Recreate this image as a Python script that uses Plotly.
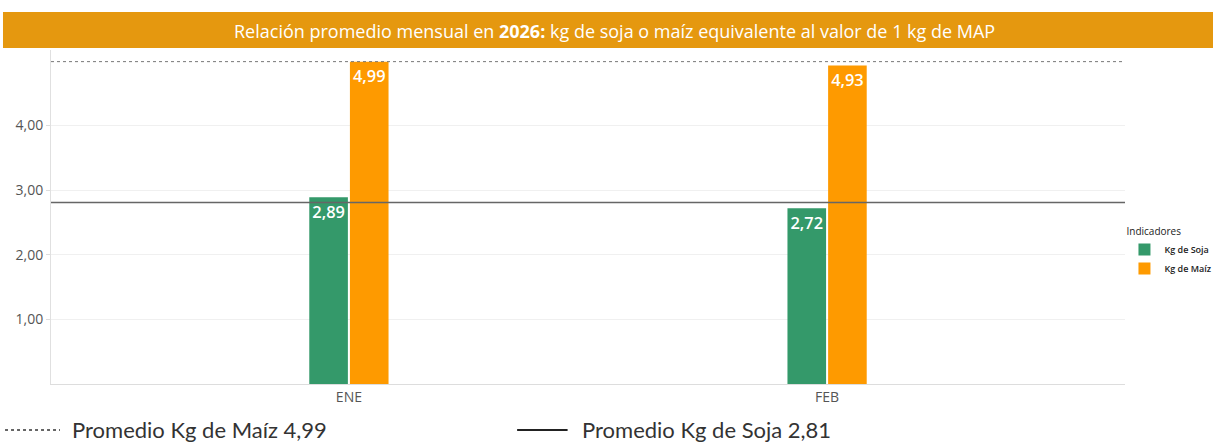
import plotly.graph_objects as go

categorias = ["ENE", "FEB"]
kg_soja = [2.89, 2.72]
kg_maiz = [4.99, 4.93]
promedio_maiz = 4.99
promedio_soja = 2.81
y_ticks = [1, 2, 3, 4]
y_tick_labels = ["1,00", "2,00", "3,00", "4,00"]

titulo = "Relación promedio mensual en <b>2026:</b> kg de soja o maíz equivalente al valor de 1 kg de MAP"

GREEN = "#34996A"
ORANGE = "#FE9A00"
BAR_TITLE = "#E5980F"

fig = go.Figure()
fig.add_trace(go.Bar(
    x=categorias, y=kg_soja, name="Kg de Soja", marker_color=GREEN,
    text=[f"{v:.2f}".replace(".", ",") for v in kg_soja],
    textposition="inside", insidetextanchor="end", textangle=0,
    textfont=dict(color="white", size=17, family="Open Sans", weight=600),
    marker_line_width=0,
))
fig.add_trace(go.Bar(
    x=categorias, y=kg_maiz, name="Kg de Maíz", marker_color=ORANGE,
    text=[f"{v:.2f}".replace(".", ",") for v in kg_maiz],
    textposition="inside", insidetextanchor="end", textangle=0,
    textfont=dict(color="white", size=17, family="Open Sans", weight=600),
    marker_line_width=0,
))

shapes = [
    # title bar
    dict(type="rect", xref="paper", yref="paper", x0=-0.0447, x1=1.082, y0=1.006, y1=1.114,
         fillcolor=BAR_TITLE, line_width=0, layer="above"),
    # average lines
    dict(type="line", xref="paper", yref="y", x0=0, x1=1, y0=promedio_maiz, y1=promedio_maiz,
         line=dict(color="#777777", width=1, dash="dot")),
    dict(type="line", xref="paper", yref="y", x0=0, x1=1, y0=promedio_soja, y1=promedio_soja,
         line=dict(color="#666666", width=1.5)),
    # footer legend samples
    dict(type="line", xref="paper", yref="paper", x0=-0.0428, x1=0.0084, y0=-0.1377, y1=-0.1377,
         line=dict(color="#333333", width=1.5, dash="dot")),
    dict(type="line", xref="paper", yref="paper", x0=0.434, x1=0.481, y0=-0.1377, y1=-0.1377,
         line=dict(color="#222222", width=2)),
]

annotations = [
    dict(text=titulo, xref="paper", yref="paper", x=0.525, y=1.057, showarrow=False,
         xanchor="center", yanchor="middle",
         font=dict(color="white", size=18, family="Open Sans", weight=500)),
    dict(text=f"Promedio Kg de Maíz {promedio_maiz:.2f}".replace(".", ","), xref="paper", yref="paper",
         x=0.0177, y=-0.1377, showarrow=False, xanchor="left", yanchor="middle",
         font=dict(color="#333333", size=22, family="Lato")),
    dict(text=f"Promedio Kg de Soja {promedio_soja:.2f}".replace(".", ","), xref="paper", yref="paper",
         x=0.4926, y=-0.1377, showarrow=False, xanchor="left", yanchor="middle",
         font=dict(color="#333333", size=22, family="Lato")),
]

fig.update_layout(
    width=1213, height=442,
    margin=dict(l=51, r=88, t=50, b=58, autoexpand=False),
    paper_bgcolor="white", plot_bgcolor="white",
    barmode="group", bargap=0.83, bargroupgap=0.05,
    separators=",.",
    font=dict(family="Open Sans", color="#555555"),
    showlegend=True,
    legend=dict(
        title=dict(text="Indicadores", font=dict(size=10, color="#222222", weight=500)),
        font=dict(size=9, color="#222222", weight=600),
        x=0.9995, y=0.485, xanchor="left", yanchor="top",
        itemwidth=30, tracegroupgap=2, bgcolor="rgba(0,0,0,0)",
    ),
    shapes=shapes,
    annotations=annotations,
    xaxis=dict(
        range=[-0.623, 1.623], showgrid=False,
        showline=True, linecolor="#dddddd", linewidth=1,
        tickfont=dict(size=14, color="#555555"), ticks="",
    ),
    yaxis=dict(
        range=[0, 5.17], tickvals=y_ticks, ticktext=y_tick_labels,
        showgrid=True, gridcolor="#f0f0f0", zeroline=False,
        showline=True, linecolor="#e0e0e0", linewidth=1,
        ticks="outside", ticklen=4, tickcolor="#dddddd",
        tickfont=dict(size=14, color="#555555"),
    ),
)

fig.write_html("out.html")
